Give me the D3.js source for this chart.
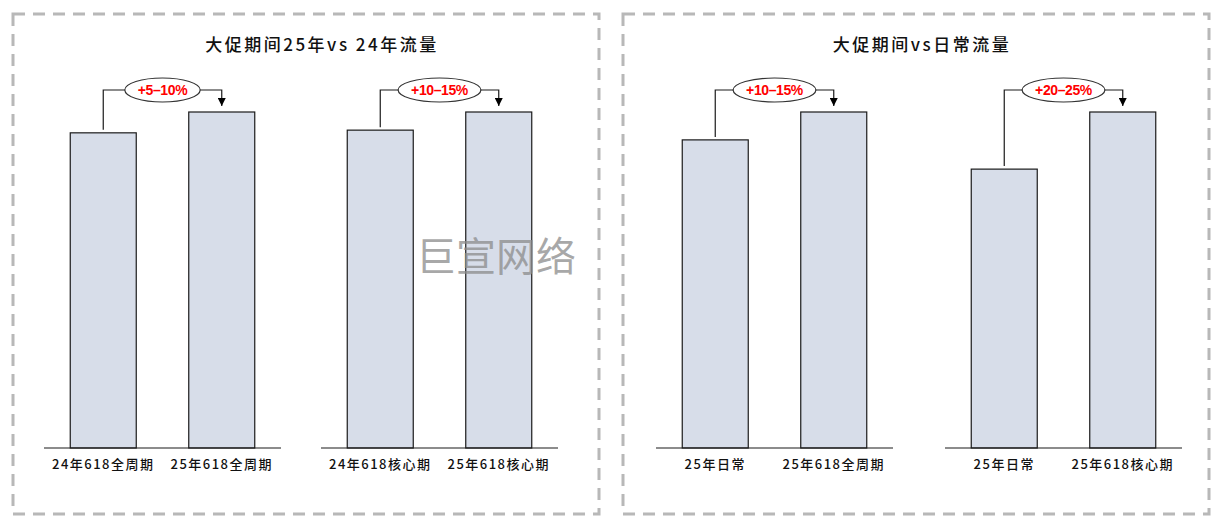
<!DOCTYPE html>
<html>
<head>
<meta charset="utf-8">
<script src="https://cdn.jsdelivr.net/npm/d3@7/dist/d3.min.js"></script>
<style>
  html, body { margin: 0; padding: 0; background: #fff; }
  svg { display: block; }
</style>
</head>
<body>
<svg id="chart" width="1219" height="531"></svg>
<script>
// ---- data ----
const panelTitles = ["大促期间25年vs 24年流量", "大促期间vs日常流量"];
const groupCategories = [
  ["24年618全周期", "25年618全周期"],
  ["24年618核心期", "25年618核心期"],
  ["25年日常", "25年618全周期"],
  ["25年日常", "25年618核心期"]
];
const groupValues = [
  [93.8, 100],
  [94.6, 100],
  [91.7, 100],
  [83.0, 100]
];
const growthLabels = ["+5–10%", "+10–15%", "+10–15%", "+20–25%"];
const watermarkText = "巨宣网络";

// ---- layout ----
const W = 1219, H = 531;
const panels = [
  { x0: 13, x1: 599, y0: 14, y1: 514, cx: 322 },
  { x0: 623, x1: 1209, y0: 14, y1: 514, cx: 922 }
];
const groupRanges = [[44, 281], [321, 558], [656, 893], [945, 1182]];
const baseline = 448, topY = 112;
const barWidth = 66;
const annY = 90;

const svg = d3.select("#chart");
svg.append("rect").attr("width", W).attr("height", H).attr("fill", "#fff");

const y = d3.scaleLinear().domain([0, 100]).range([baseline, topY]);

// panels
panels.forEach((p, i) => {
  svg.append("rect")
    .attr("x", p.x0).attr("y", p.y0)
    .attr("width", p.x1 - p.x0).attr("height", p.y1 - p.y0)
    .attr("fill", "none")
    .attr("stroke", "#b8b8b8")
    .attr("stroke-width", 3)
    .attr("stroke-dasharray", "12,8");
  svg.append("text")
    .attr("x", p.cx).attr("y", 51)
    .attr("text-anchor", "middle")
    .attr("font-family", "'Noto Sans CJK SC', sans-serif")
    .attr("font-size", 17)
    .attr("font-weight", 500)
    .attr("letter-spacing", "2.5px")
    .attr("fill", "#111")
    .text(panelTitles[i]);
});

// arrow marker
svg.append("defs").append("marker")
  .attr("id", "arrow")
  .attr("viewBox", "0 0 10 10")
  .attr("refX", 10).attr("refY", 5)
  .attr("markerWidth", 8).attr("markerHeight", 8)
  .attr("markerUnits", "userSpaceOnUse")
  .attr("orient", "auto")
  .append("path").attr("d", "M0,0 L10,5 L0,10 Z").attr("fill", "#000");

groupCategories.forEach((cats, gi) => {
  const x = d3.scaleBand()
    .domain(cats)
    .range(groupRanges[gi])
    .paddingInner(0.443)
    .paddingOuter(0.2215);
  const g = svg.append("g");
  const data = cats.map((c, i) => ({ c, v: groupValues[gi][i] }));

  g.selectAll("rect.bar").data(data).enter().append("rect")
    .attr("class", "bar")
    .attr("x", d => x(d.c) + (x.bandwidth() - barWidth) / 2)
    .attr("width", barWidth)
    .attr("y", d => y(d.v))
    .attr("height", d => baseline - y(d.v))
    .attr("fill", "#d7dde9")
    .attr("stroke", "#1a1a1a")
    .attr("stroke-width", 1.2);

  // axis
  const axis = g.append("g")
    .attr("transform", `translate(0,${baseline})`)
    .call(d3.axisBottom(x).tickSize(0).tickPadding(12));
  axis.select(".domain").attr("stroke", "#1a1a1a").attr("stroke-width", 1.2)
    .attr("d", `M${groupRanges[gi][0]},0H${groupRanges[gi][1]}`);
  axis.selectAll("text")
    .attr("font-family", "'Noto Sans CJK SC', sans-serif")
    .attr("font-size", 13)
    .attr("font-weight", 500)
    .attr("letter-spacing", "1.5px")
    .attr("fill", "#111");

  // annotation
  const c0 = x(cats[0]) + x.bandwidth() / 2;
  const c1 = x(cats[1]) + x.bandwidth() / 2;
  const mid = (c0 + c1) / 2;
  const ell = g.append("ellipse");
  const lbl = g.append("text")
    .attr("x", mid).attr("y", annY + 5)
    .attr("text-anchor", "middle")
    .attr("font-family", "'Liberation Sans', Arial, sans-serif")
    .attr("font-weight", "bold")
    .attr("font-size", 14)
    .attr("letter-spacing", "-0.4px")
    .attr("fill", "#ff0000")
    .text(growthLabels[gi]);
  const tw = lbl.node().getComputedTextLength();
  const rx = tw / 2 + 13, ry = 12;
  ell.attr("cx", mid).attr("cy", annY).attr("rx", rx).attr("ry", ry)
    .attr("fill", "#fff").attr("stroke", "#333").attr("stroke-width", 1.2);
  g.append("path")
    .attr("d", `M${c0},${y(groupValues[gi][0]) - 3}V${annY}H${mid - rx}`)
    .attr("fill", "none").attr("stroke", "#1a1a1a").attr("stroke-width", 1.2);
  g.append("path")
    .attr("d", `M${mid + rx},${annY}H${c1}V${y(groupValues[gi][1]) - 6}`)
    .attr("fill", "none").attr("stroke", "#1a1a1a").attr("stroke-width", 1.2)
    .attr("marker-end", "url(#arrow)");
});

// watermark
svg.append("text")
  .attr("x", 496).attr("y", 271)
  .attr("text-anchor", "middle")
  .attr("font-family", "'Noto Sans CJK SC', sans-serif")
  .attr("font-size", 40)
  .attr("fill", "#8c8c8c")
  .attr("fill-opacity", 0.75)
  .text(watermarkText);
</script>
</body>
</html>
